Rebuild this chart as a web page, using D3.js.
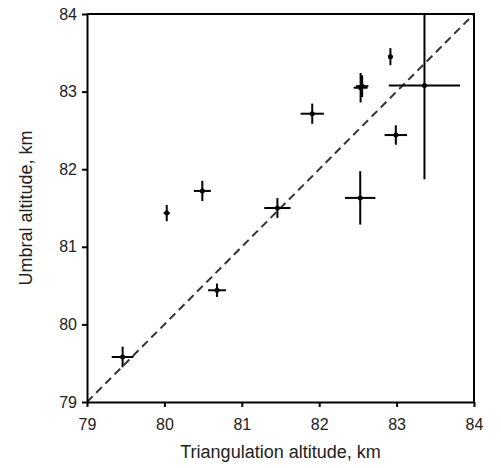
<!DOCTYPE html>
<html>
<head>
<meta charset="utf-8">
<script src="https://cdn.jsdelivr.net/npm/d3@7"></script>
<style>
  body { margin: 0; background: #fff; }
  svg { font-family: "Liberation Sans", Arial, sans-serif; }
</style>
</head>
<body>
<div id="container"></div>
<script>
/* DATA */
const triAlt = [82.92, 82.535, 82.555, 83.36, 81.91, 82.99, 80.03, 80.49, 81.46, 82.53, 80.68, 79.46];
const triErr = [0.03, 0.09, 0.08, 0.46, 0.15, 0.145, 0.04, 0.11, 0.17, 0.196, 0.115, 0.14];
const umbAlt = [83.45, 83.05, 83.07, 83.08, 82.715, 82.44, 81.435, 81.72, 81.5, 81.63, 80.44, 79.58];
const umbErr = [0.11, 0.19, 0.14, 1.21, 0.13, 0.125, 0.105, 0.13, 0.127, 0.344, 0.086, 0.133];
const tickVals = [79, 80, 81, 82, 83, 84];

const points = triAlt.map((x, i) => ({ x, y: umbAlt[i], dx: triErr[i], dy: umbErr[i] }));

/* CONSTANTS */
const width = 501, height = 468;
const margin = { top: 14, right: 27, bottom: 66, left: 87 };

const svg = d3.select("#container")
  .append("svg")
  .attr("width", width)
  .attr("height", height);

/* SCALES */
const xScale = d3.scaleLinear()
  .domain([79, 84])
  .range([margin.left, width - margin.right]);

const yScale = d3.scaleLinear()
  .domain([79, 84])
  .range([height - margin.bottom, margin.top]);

svg.append("clipPath")
  .attr("id", "plot")
  .append("rect")
  .attr("x", margin.left)
  .attr("y", margin.top)
  .attr("width", width - margin.left - margin.right)
  .attr("height", height - margin.top - margin.bottom);

const plot = svg.append("g").attr("clip-path", "url(#plot)");

// 1:1 line
plot.append("line")
  .attr("x1", xScale(79)).attr("y1", yScale(79))
  .attr("x2", xScale(84)).attr("y2", yScale(84))
  .attr("stroke", "#333")
  .attr("stroke-width", 2)
  .attr("stroke-dasharray", "8,5");

// error bars
const g = plot.selectAll("g.pt")
  .data(points)
  .join("g")
  .attr("class", "pt");

g.append("line")
  .attr("x1", d => xScale(d.x - d.dx)).attr("x2", d => xScale(d.x + d.dx))
  .attr("y1", d => yScale(d.y)).attr("y2", d => yScale(d.y))
  .attr("stroke", "#000").attr("stroke-width", 2);

g.append("line")
  .attr("x1", d => xScale(d.x)).attr("x2", d => xScale(d.x))
  .attr("y1", d => yScale(d.y - d.dy)).attr("y2", d => yScale(d.y + d.dy))
  .attr("stroke", "#000").attr("stroke-width", 2);

g.append("circle")
  .attr("cx", d => xScale(d.x))
  .attr("cy", d => yScale(d.y))
  .attr("r", 2.5)
  .attr("fill", "#000");

/* AXES */
const xAxis = d3.axisBottom(xScale).tickValues(tickVals).tickFormat(d3.format("d"))
  .tickSize(5).tickSizeOuter(0).tickPadding(12);
const yAxis = d3.axisLeft(yScale).tickValues(tickVals).tickFormat(d3.format("d"))
  .tickSize(5).tickSizeOuter(0).tickPadding(5);

const xg = svg.append("g")
  .attr("transform", `translate(0,${height - margin.bottom})`)
  .call(xAxis);

const yg = svg.append("g")
  .attr("transform", `translate(${margin.left},0)`)
  .call(yAxis);

[xg, yg].forEach(a => {
  a.select(".domain").attr("stroke-width", 2).attr("stroke", "#000");
  a.selectAll(".tick line").attr("stroke-width", 2).attr("stroke", "#000");
  a.selectAll(".tick text").attr("fill", "#222").style("font-size", "16px");
});

// top and right frame
svg.append("path")
  .attr("d", `M${margin.left},${margin.top}H${width - margin.right}V${height - margin.bottom}`)
  .attr("fill", "none")
  .attr("stroke", "#000")
  .attr("stroke-width", 2);

/* LABELS */
svg.append("text")
  .attr("x", (margin.left + width - margin.right) / 2)
  .attr("y", 458)
  .attr("text-anchor", "middle")
  .attr("fill", "#222")
  .style("font-size", "18px")
  .text("Triangulation altitude, km");

svg.append("text")
  .attr("transform", `translate(32,${(margin.top + height - margin.bottom) / 2}) rotate(-90)`)
  .attr("text-anchor", "middle")
  .attr("fill", "#222")
  .style("font-size", "18px")
  .text("Umbral altitude, km");
</script>
</body>
</html>
